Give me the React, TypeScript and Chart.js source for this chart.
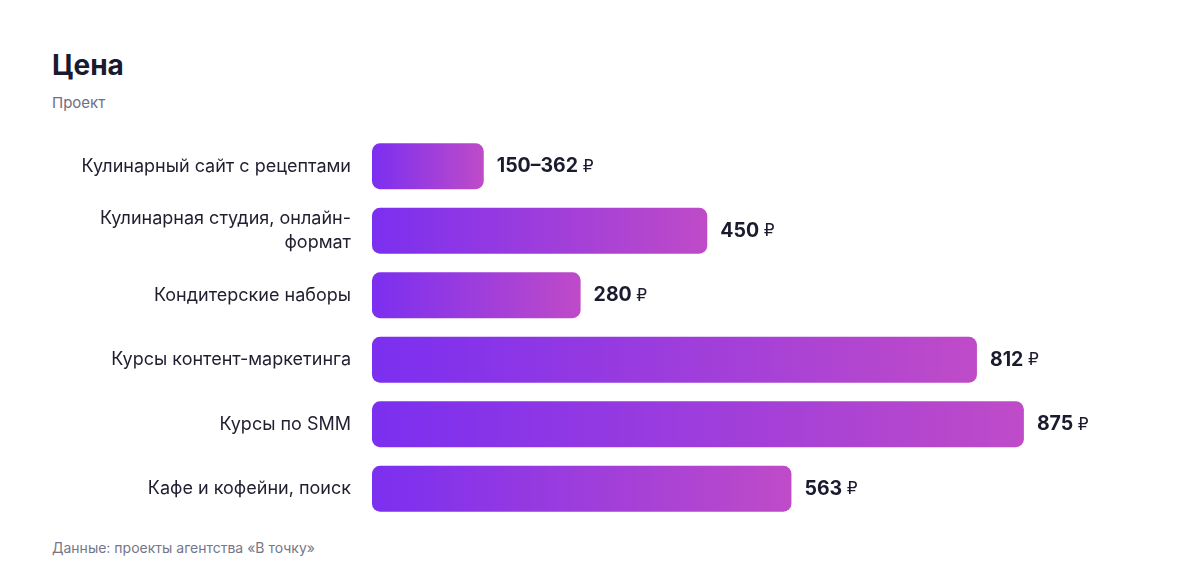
import { useEffect, useRef } from "react";
import { Chart, registerables } from "chart.js";

Chart.register(...registerables);

const categories: (string | string[])[] = [
  "Кулинарный сайт с рецептами",
  ["Кулинарная студия, онлайн-", "формат"],
  "Кондитерские наборы",
  "Курсы контент-маркетинга",
  "Курсы по SMM",
  "Кафе и кофейни, поиск",
];
const prices = [150, 450, 280, 812, 875, 563];
const priceLabels = ["150–362", "450", "280", "812", "875", "563"];
const currency = "₽";

const valueLabelPlugin = {
  id: "valueLabels",
  afterDatasetsDraw(chart: any) {
    const ctx = chart.ctx;
    const meta = chart.getDatasetMeta(0);
    meta.data.forEach((bar: any, i: number) => {
      const x = bar.x + 13;
      const y = bar.y;
      ctx.save();
      ctx.textBaseline = "middle";
      ctx.textAlign = "left";
      ctx.fillStyle = "#1b1b2f";
      ctx.font = "bold 19.5px Inter";
      ctx.fillText(priceLabels[i], x, y);
      const w = ctx.measureText(priceLabels[i] + " ").width;
      ctx.font = "17px 'DejaVu Sans'";
      ctx.fillText(currency, x + w, y + 1);
      ctx.restore();
    });
  },
};

export default function App() {
  const canvasRef = useRef<HTMLCanvasElement | null>(null);

  useEffect(() => {
    if (!canvasRef.current) return;
    const chart = new Chart(canvasRef.current, {
      type: "bar",
      data: {
        labels: categories,
        datasets: [
          {
            label: "Цена",
            data: prices,
            backgroundColor: (c: any) => {
              const ch = c.chart;
              const xs = ch.scales.x;
              if (!ch.chartArea || !xs || c.dataIndex === undefined) return "#7c2fee";
              const x0 = xs.getPixelForValue(0);
              const x1 = xs.getPixelForValue(prices[c.dataIndex]);
              const g = ch.ctx.createLinearGradient(x0, 0, x1, 0);
              g.addColorStop(0, "#7b2ff0");
              g.addColorStop(1, "#bf4bc8");
              return g;
            },
            borderRadius: 8,
            borderSkipped: false,
            barPercentage: 0.71,
            categoryPercentage: 1,
          },
        ],
      },
      options: {
        indexAxis: "y",
        animation: false,
        responsive: true,
        maintainAspectRatio: false,
        layout: { padding: { left: 0, right: 83, top: 0, bottom: 0 } },
        plugins: {
          legend: { display: false },
          tooltip: { enabled: false },
        },
        scales: {
          x: {
            display: false,
            min: 0,
            max: 1000,
          },
          y: {
            afterFit: (s: any) => {
              s.width = 372;
              s.paddingTop = 0;
              s.paddingBottom = 0;
            },
            grid: { display: false, drawTicks: false },
            border: { display: false },
            ticks: {
              padding: 21,
              color: "#1f1f30",
              font: { family: "Inter", size: 18, lineHeight: 1.33 },
            },
          },
        },
      } as any,
      plugins: [valueLabelPlugin],
    });
    return () => chart.destroy();
  }, []);

  return (
    <div
      style={{
        position: "absolute",
        left: 0,
        top: 0,
        width: 1200,
        height: 584,
        background: "#ffffff",
        fontFamily: "Inter, sans-serif",
      }}
    >
      <div
        style={{
          position: "absolute",
          left: 52,
          top: 51,
          fontSize: 28,
          lineHeight: 1,
          fontWeight: 700,
          color: "#1a1a2e",
        }}
      >
        Цена
      </div>
      <div
        style={{
          position: "absolute",
          left: 52,
          top: 95,
          fontSize: 15,
          lineHeight: 1,
          color: "#6e6e85",
        }}
      >
        Проект
      </div>
      <div
        style={{
          position: "absolute",
          left: 0,
          top: 134,
          width: 1200,
          height: 387,
        }}
      >
        <canvas ref={canvasRef} />
      </div>
      <div
        style={{
          position: "absolute",
          left: 52,
          top: 541,
          fontSize: 14,
          lineHeight: 1,
          color: "#76768a",
        }}
      >
        Данные: проекты агентства «В точку»
      </div>
    </div>
  );
}
